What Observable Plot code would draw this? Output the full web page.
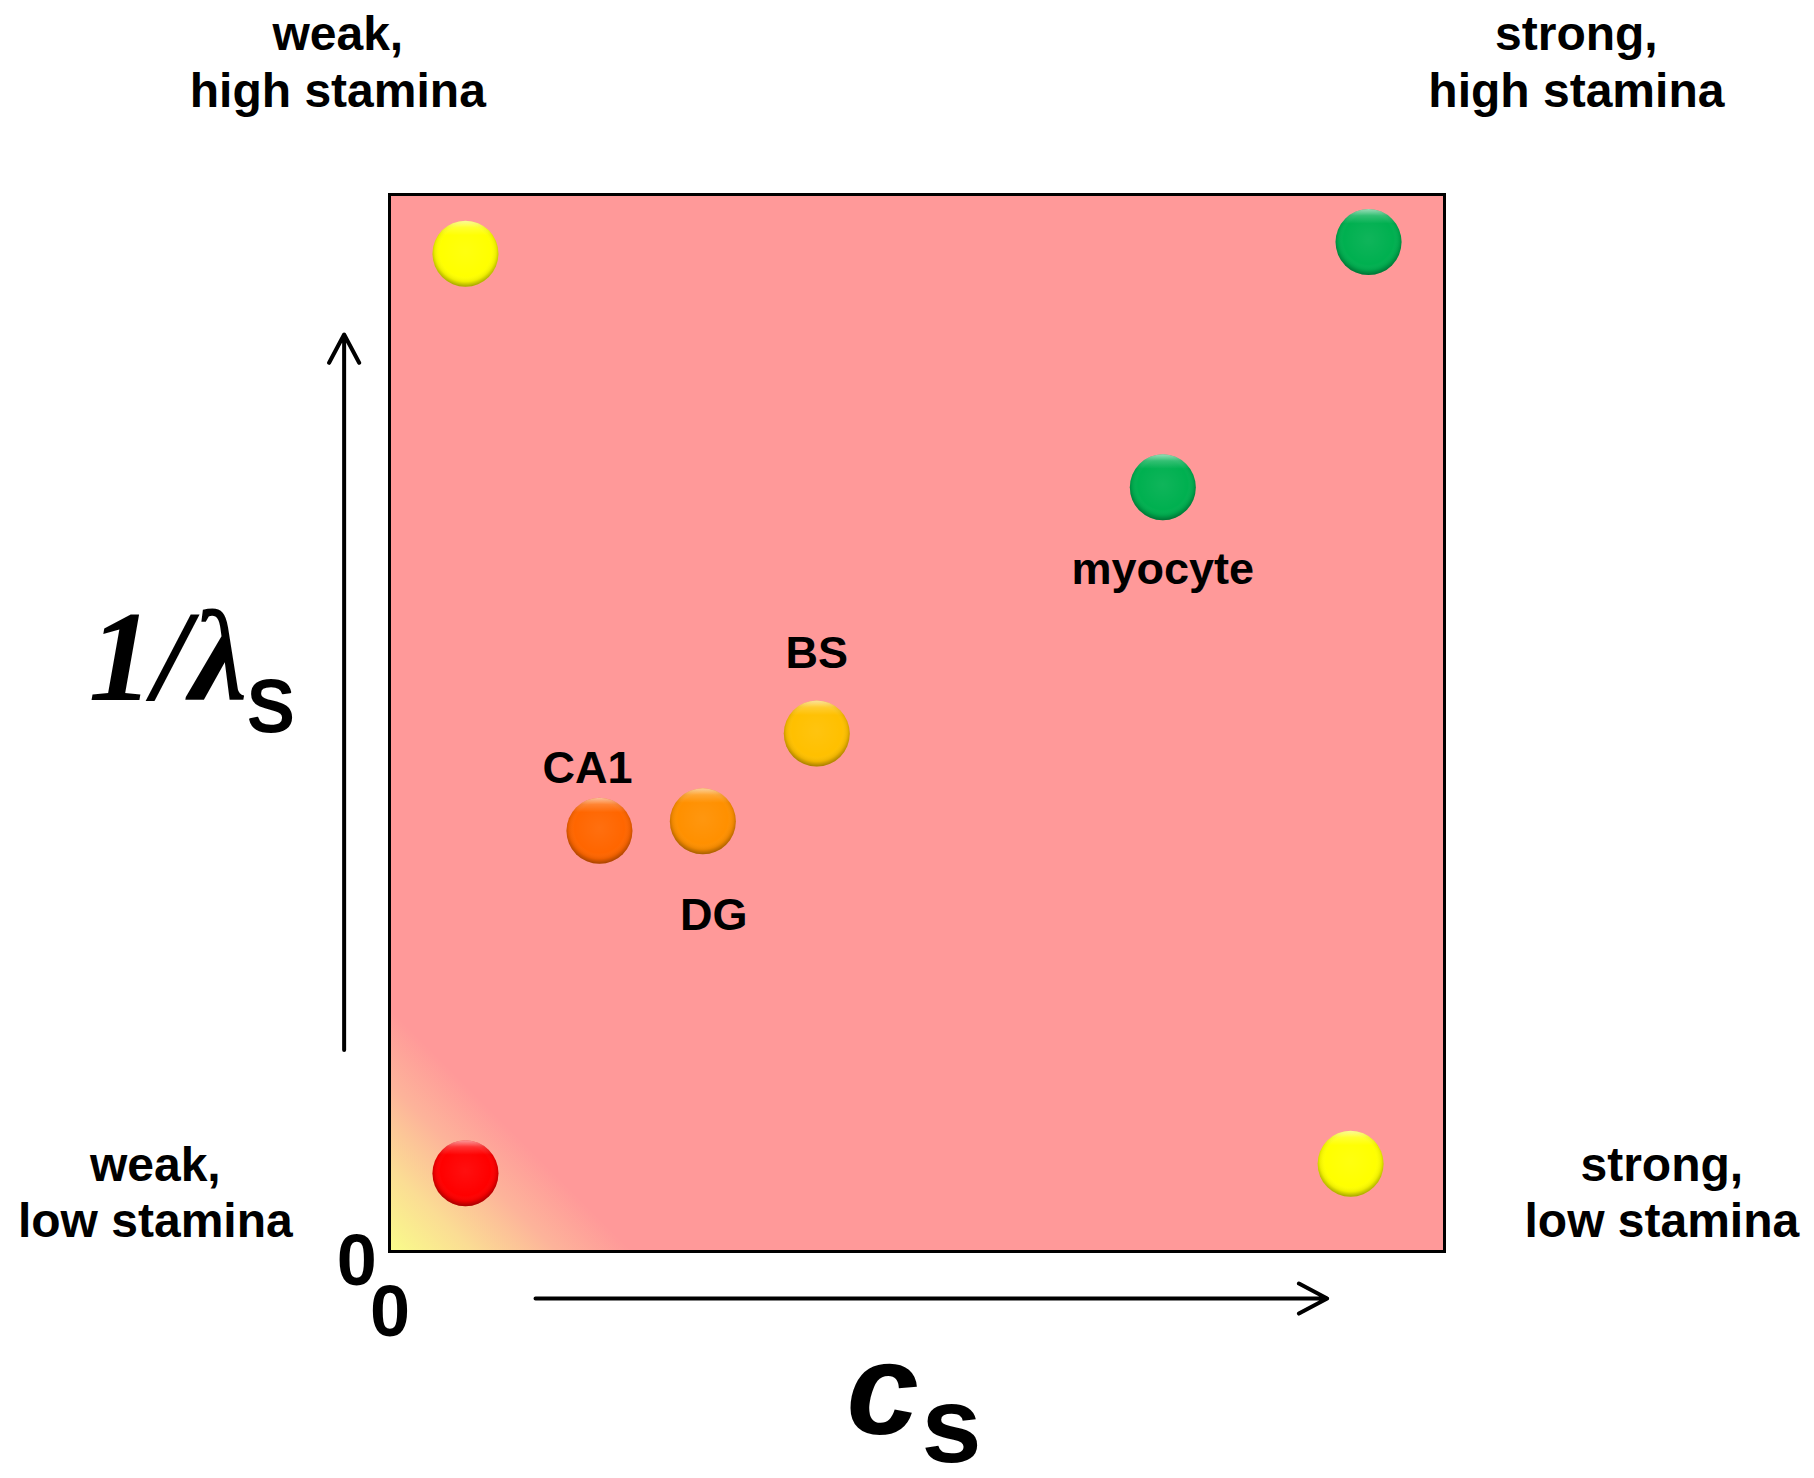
<!DOCTYPE html>
<html>
<head>
<meta charset="utf-8">
<script src="https://cdn.jsdelivr.net/npm/d3@7"></script>
<script src="https://cdn.jsdelivr.net/npm/@observablehq/plot@0.6"></script>
<style>
  html, body { margin: 0; padding: 0; background: #ffffff; }
  #chart svg { display: block; }
</style>
</head>
<body>
<div id="chart"></div>
<script>
// ---- data ----
const cellIds      = ["weakHigh", "strongHigh", "weakLow", "strongLow", "myocyte", "BS", "DG", "CA1"];
const cellLabels   = ["", "", "", "", "myocyte", "BS", "DG", "CA1"];
const csValues     = [0.072, 0.928, 0.072, 0.911, 0.733, 0.405, 0.297, 0.199];   // c_s (x)
const invLambda    = [0.944, 0.955, 0.074, 0.083, 0.723, 0.490, 0.407, 0.398];   // 1/lambda_s (y)
const ballColors   = ["#ffff00", "#00b050", "#ff0000", "#ffff00", "#00b050", "#ffc000", "#ff9000", "#ff6600"];

const quadrantText = ["weak,\nhigh stamina", "strong,\nhigh stamina", "weak,\nlow stamina", "strong,\nlow stamina"];
const zeroTicks    = ["0", "0"];

// ---- annotation layout (data units, outside the [0,1] frame) ----
const quadrantPos = [
  {x: -0.049, y: 1.083}, {x: 1.125, y: 1.083},
  {x: -0.222, y: 0.0135}, {x: 1.206, y: 0.0135}
];
const zeroPos = [{x: -0.031, y: -0.032}, {x: 0.0005, y: -0.080}];
const labelOffset = {myocyte: [0, 82], BS: [0, -80], DG: [11, 94], CA1: [-12, -62]};
const axisArrows = [
  {x1: -0.043, y1: 0.1906, x2: -0.043, y2: 0.8675},
  {x1: 0.1384, y1: -0.0445, x2: 0.8888, y2: -0.0445}
];

const cells = cellIds.map((id, i) => ({id, label: cellLabels[i], x: csValues[i], y: invLambda[i], color: ballColors[i]}));
const labeled = cells.filter(d => d.label);
const quads = quadrantText.map((t, i) => ({text: t, ...quadrantPos[i]}));
const zeros = zeroTicks.map((t, i) => ({text: t, ...zeroPos[i]}));

const sans = "'Liberation Sans', Arial, Helvetica, sans-serif";
const serif = "'Liberation Serif', 'Times New Roman', serif";

const chart = Plot.plot({
  width: 1814,
  height: 1478,
  marginLeft: 389,
  marginRight: 370,
  marginTop: 194,
  marginBottom: 227,
  x: {domain: [0, 1], axis: null},
  y: {domain: [0, 1], axis: null},
  color: {type: "identity"},
  style: {background: "#ffffff", overflow: "visible"},
  marks: [
    Plot.frame({fill: "url(#bgGrad)", stroke: "#000000", strokeWidth: 3}),
    Plot.arrow(axisArrows, {x1: "x1", y1: "y1", x2: "x2", y2: "y2", stroke: "#000000", strokeWidth: 4, headLength: 12, headAngle: 56}),
    Plot.dot(cells, {x: "x", y: "y", r: 33, fill: "color", stroke: "none", ariaLabel: "balls"}),
    Plot.dot(cells, {x: "x", y: "y", r: 33, fill: "url(#ballShade)", stroke: "none"}),
    Plot.dot(cells, {x: "x", y: "y", r: 33, fill: "url(#ballGloss)", stroke: "none"}),
    ...labeled.map(d => Plot.text([d], {
      x: "x", y: "y", text: "label",
      dx: labelOffset[d.label][0], dy: labelOffset[d.label][1],
      fontSize: 45, fontWeight: "bold", fontFamily: sans, fill: "#000000"
    })),
    Plot.text(quads, {x: "x", y: "y", text: "text", lineAnchor: "bottom", lineHeight: 1.18,
      fontSize: 48, fontWeight: "bold", fontFamily: sans, fill: "#000000"}),
    Plot.text(zeros, {x: "x", y: "y", text: "text", lineAnchor: "bottom",
      fontSize: 72, fontWeight: "bold", fontFamily: sans, fill: "#000000"}),
    // axis titles
    Plot.text(["1/λ"], {x: -0.2853, y: 0.5213, text: d => d, textAnchor: "start", lineAnchor: "bottom",
      fontSize: 130, fontWeight: "bold", fontStyle: "italic", fontFamily: serif, fill: "#000000"}),
    Plot.text(["s"], {x: -0.1345, y: 0.4929, text: d => d, textAnchor: "start", lineAnchor: "bottom",
      fontSize: 94, fontWeight: "normal", fontFamily: sans, fill: "#000000", stroke: "#000000", strokeWidth: 2}),
    Plot.text(["c"], {x: 0.4332, y: -0.1722, text: d => d, textAnchor: "start", lineAnchor: "bottom",
      fontSize: 130, fontWeight: "bold", fontStyle: "italic", fontFamily: sans, fill: "#000000"}),
    Plot.text(["s"], {x: 0.5043, y: -0.1996, text: d => d, textAnchor: "start", lineAnchor: "bottom",
      fontSize: 108, fontWeight: "bold", fontFamily: sans, fill: "#000000"})
  ]
});

// gradient / shadow definitions used by the marks above
const svg = d3.select(chart.tagName.toLowerCase() === "svg" ? chart : chart.querySelector("svg"));
const defs = svg.insert("defs", ":first-child");
const bg = defs.append("linearGradient").attr("id", "bgGrad")
  .attr("x1", 0).attr("y1", 1).attr("x2", 1).attr("y2", 0);
[[0, "#f9fd8a"], [0.04, "#fbdc94"], [0.08, "#fdb39a"], [0.115, "#ff9999"], [1, "#ff9999"]]
  .forEach(([o, c]) => bg.append("stop").attr("offset", o).attr("stop-color", c));

const shade = defs.append("radialGradient").attr("id", "ballShade")
  .attr("cx", "50%").attr("cy", "46%").attr("r", "54%");
[[0, "#ffffff", 0.06], [0.7, "#ffffff", 0], [0.86, "#000000", 0.07], [1, "#000000", 0.35]]
  .forEach(([o, c, a]) => shade.append("stop").attr("offset", o).attr("stop-color", c).attr("stop-opacity", a));

const gloss = defs.append("linearGradient").attr("id", "ballGloss")
  .attr("x1", 0).attr("y1", 0).attr("x2", 0).attr("y2", 1);
[[0, "#ffffff", 0.6], [0.1, "#ffffff", 0.2], [0.22, "#ffffff", 0], [1, "#ffffff", 0]]
  .forEach(([o, c, a]) => gloss.append("stop").attr("offset", o).attr("stop-color", c).attr("stop-opacity", a));

const shadow = defs.append("filter").attr("id", "ballShadow")
  .attr("x", "-50%").attr("y", "-50%").attr("width", "200%").attr("height", "220%");
shadow.append("feDropShadow").attr("dx", 0).attr("dy", 8).attr("stdDeviation", 4.5)
  .attr("flood-color", "#5a1f1f").attr("flood-opacity", 0.55);
svg.select('g[aria-label="balls"]').attr("filter", "url(#ballShadow)");

document.getElementById("chart").appendChild(chart);
</script>
</body>
</html>
